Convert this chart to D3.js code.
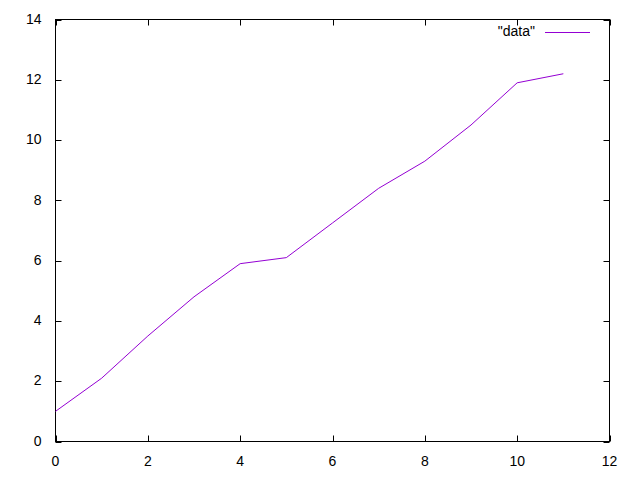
<!DOCTYPE html>
<html>
<head>
<meta charset="utf-8">
<script src="https://cdn.jsdelivr.net/npm/d3@7"></script>
<style>
body { margin: 0; background: #fff; }
text { font-family: "Liberation Sans", Arial, sans-serif; font-size: 14px; fill: #000; }
</style>
</head>
<body>
<svg id="chart"></svg>
<script>
// values
var xValues = [0, 1, 2, 3, 4, 5, 6, 7, 8, 9, 10, 11];
var yValues = [1.0, 2.1, 3.5, 4.8, 5.9, 6.1, 7.25, 8.4, 9.3, 10.5, 11.9, 12.2];
var xTicks = [0, 2, 4, 6, 8, 10, 12];
var yTicks = [0, 2, 4, 6, 8, 10, 12, 14];
var seriesName = '"data"';

var width = 640, height = 480;
var plotLeft = 55.5, plotRight = 609.5, plotTop = 19.5, plotBottom = 441.5;
var tickLen = 6;

var svg = d3.select("#chart").attr("width", width).attr("height", height);

var x = d3.scaleLinear().domain([0, 12]).range([plotLeft, plotRight]);
var y = d3.scaleLinear().domain([0, 14]).range([plotBottom, plotTop]);

// ticks (mirrored on all four sides like gnuplot)
var g = svg.append("g").attr("stroke", "#000").attr("stroke-width", 1);
xTicks.forEach(function (t) {
    var px = Math.round(x(t)) + 0.5;
    g.append("line").attr("x1", px).attr("x2", px).attr("y1", plotBottom).attr("y2", plotBottom - tickLen);
    g.append("line").attr("x1", px).attr("x2", px).attr("y1", plotTop).attr("y2", plotTop + tickLen);
});
yTicks.forEach(function (t) {
    var py = Math.round(y(t)) + 0.5;
    g.append("line").attr("x1", plotLeft).attr("x2", plotLeft + tickLen).attr("y1", py).attr("y2", py);
    g.append("line").attr("x1", plotRight).attr("x2", plotRight - tickLen).attr("y1", py).attr("y2", py);
});

// frame
svg.append("rect")
    .attr("x", plotLeft).attr("y", plotTop)
    .attr("width", plotRight - plotLeft).attr("height", plotBottom - plotTop)
    .attr("fill", "none").attr("stroke", "#000").attr("stroke-width", 1);

// tick labels
svg.selectAll("text.xl")
    .data(xTicks)
    .enter().append("text")
    .attr("class", "xl")
    .attr("x", function (d) { return x(d); })
    .attr("y", plotBottom + 24)
    .attr("text-anchor", "middle")
    .text(function (d) { return d; });

svg.selectAll("text.yl")
    .data(yTicks)
    .enter().append("text")
    .attr("class", "yl")
    .attr("x", plotLeft - 14)
    .attr("y", function (d) { return y(d); })
    .attr("dy", "0.3em")
    .attr("text-anchor", "end")
    .text(function (d) { return d; });

// data line
var line = d3.line()
    .x(function (d, i) { return x(xValues[i]); })
    .y(function (d) { return y(d); });

svg.append("path")
    .datum(yValues)
    .attr("d", line)
    .attr("fill", "none")
    .attr("stroke", "#9400d3")
    .attr("stroke-width", 1);

// key
svg.append("text")
    .attr("x", 535)
    .attr("y", 32)
    .attr("dy", "0.3em")
    .attr("text-anchor", "end")
    .text(seriesName);
svg.append("line")
    .attr("x1", 545).attr("x2", 590)
    .attr("y1", 32.5).attr("y2", 32.5)
    .attr("stroke", "#9400d3").attr("stroke-width", 1);
</script>
</body>
</html>
